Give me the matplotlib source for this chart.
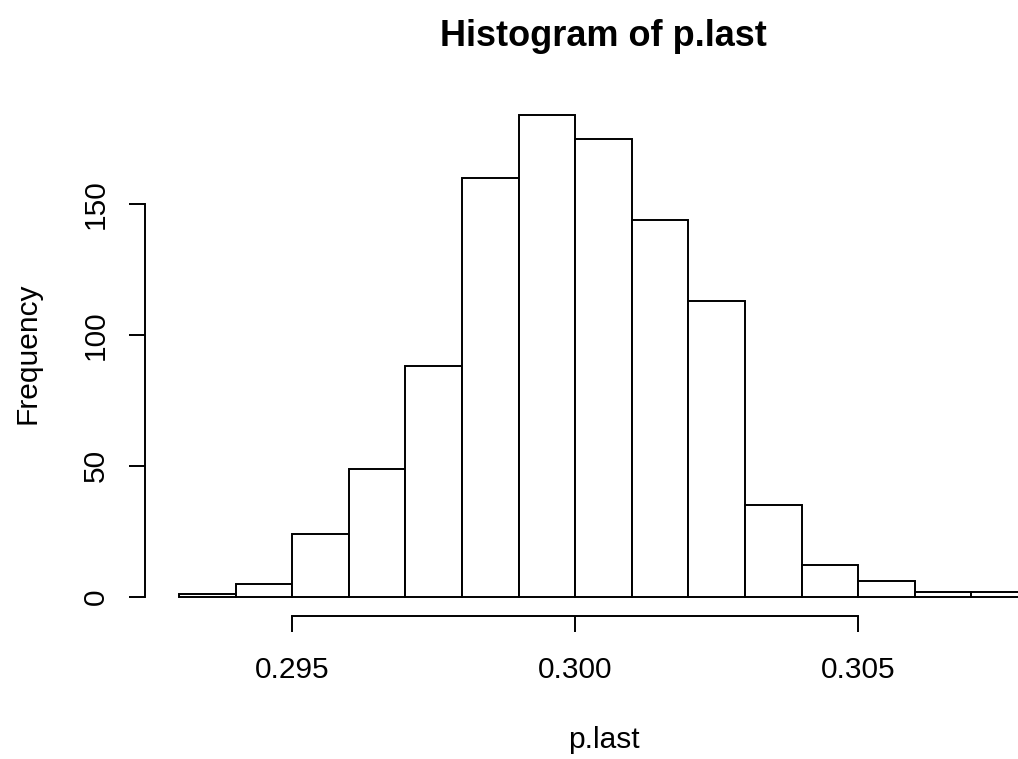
import matplotlib
matplotlib.use("Agg")
import matplotlib.pyplot as plt
import numpy as np

plt.rcParams['font.family'] = ['Liberation Sans', 'DejaVu Sans']

# Data
bin_edges = [0.293, 0.294, 0.295, 0.296, 0.297, 0.298, 0.299, 0.300,
             0.301, 0.302, 0.303, 0.304, 0.305, 0.306, 0.307, 0.308]
counts = [1, 5, 24, 49, 88, 160, 184, 175, 144, 113, 35, 12, 6, 2, 2]
x_ticks = [0.295, 0.300, 0.305]
x_tick_labels = ['0.295', '0.300', '0.305']
y_ticks = [0, 50, 100, 150]
y_tick_labels = ['0', '50', '100', '150']

W, H = 1018, 759
fig = plt.figure(figsize=(W / 100, H / 100), dpi=100)
left_px, right_px, top_px, bot_px = 145, 1062, 96, 616
ax = fig.add_axes([left_px / W, 1 - bot_px / H, (right_px - left_px) / W, (bot_px - top_px) / H])

edges = np.array(bin_edges)
widths = np.diff(edges)
ax.bar(edges[:-1], counts, width=widths, align='edge', color='white',
       edgecolor='black', linewidth=1.4)

rng = edges[-1] - edges[0]
ax.set_xlim(edges[0] - 0.04 * rng, edges[-1] + 0.04 * rng)
ymax = max(counts)
ax.set_ylim(-0.04 * ymax, ymax * 1.04)

for s in ['top', 'right']:
    ax.spines[s].set_visible(False)
ax.spines['left'].set_bounds(y_ticks[0], y_ticks[-1])
ax.spines['bottom'].set_bounds(x_ticks[0], x_ticks[-1])
for s in ['left', 'bottom']:
    ax.spines[s].set_linewidth(1.4)

ax.set_xticks(x_ticks)
ax.set_xticklabels(x_tick_labels)
ax.set_yticks(y_ticks)
ax.set_yticklabels(y_tick_labels, rotation=90, va='center')
ax.tick_params(axis='both', length=11.5, width=1.4, labelsize=21.5, colors='black')
ax.tick_params(axis='x', pad=17)
ax.tick_params(axis='y', pad=14)

fig.text((left_px + right_px) / 2 / W, 1 - 36 / H, 'Histogram of p.last',
         ha='center', va='center', fontsize=26, fontweight='bold')
fig.text((left_px + right_px) / 2 / W, 1 - 740 / H, 'p.last',
         ha='center', va='center', fontsize=21.5)
fig.text(28 / W, 1 - 353 / H, 'Frequency', ha='center', va='center',
         rotation=90, fontsize=21.5)

fig.savefig('out.png', dpi=100)
